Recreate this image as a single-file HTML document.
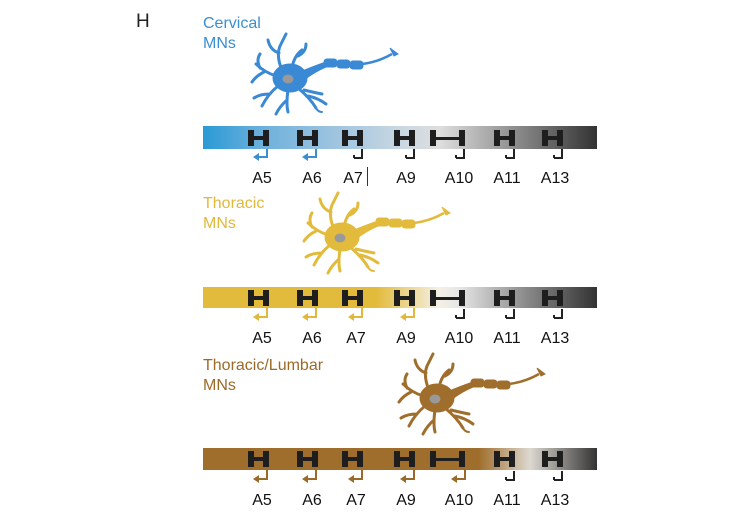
<!DOCTYPE html>
<html><head><meta charset="utf-8"><style>
html,body{margin:0;padding:0;background:#fff;width:750px;height:519px;overflow:hidden}
svg text{font-family:"Liberation Sans",Arial,sans-serif}
</style></head><body>
<svg width="750" height="519" viewBox="0 0 750 519" xmlns="http://www.w3.org/2000/svg">
<defs>
<linearGradient id="gb" x1="203" x2="597" gradientUnits="userSpaceOnUse">
<stop offset="0" stop-color="#2a9ad6"/><stop offset="0.15" stop-color="#6db0dc"/><stop offset="0.5" stop-color="#c9d7e2"/><stop offset="0.6" stop-color="#dedede"/><stop offset="0.8" stop-color="#8a8a8a"/><stop offset="1" stop-color="#333"/></linearGradient>
<linearGradient id="gy" x1="203" x2="597" gradientUnits="userSpaceOnUse">
<stop offset="0" stop-color="#e3bb3c"/><stop offset="0.44" stop-color="#e3bb3c"/><stop offset="0.6" stop-color="#f4f0e6"/><stop offset="0.65" stop-color="#e6e6e6"/><stop offset="0.82" stop-color="#8a8a8a"/><stop offset="1" stop-color="#333"/></linearGradient>
<linearGradient id="gr" x1="203" x2="597" gradientUnits="userSpaceOnUse">
<stop offset="0" stop-color="#a06e2c"/><stop offset="0.7" stop-color="#a06e2c"/><stop offset="0.83" stop-color="#ddd8d0"/><stop offset="1" stop-color="#333"/></linearGradient>
<g id="H"><rect x="0" y="0" width="6" height="16"/><rect x="15" y="0" width="6" height="16"/><rect x="0" y="6" width="21" height="4"/></g>
<g id="HW"><rect x="0" y="0" width="6" height="16"/><rect x="29" y="0" width="6" height="16"/><rect x="0" y="7" width="35" height="3"/></g>
<g id="hook" fill="none" stroke="#222" stroke-width="2"><path d="M0 0 V9 H-8"/><path d="M-8 6 V9"/></g>
<g id="neuron">
<g fill="none" stroke-linecap="round" stroke-width="3">
<path d="M-8 -8 Q-14 -22 -10 -32 M-11 -25 Q-20 -28 -22 -38 M-10 -32 Q-6 -40 -4 -44"/>
<path d="M2 -10 Q4 -22 12 -28 M8 -22 Q16 -26 16 -34"/>
<path d="M-14 -2 Q-26 -6 -34 -14 M-26 -6 Q-34 -2 -38 4 M-30 -10 Q-34 -18 -30 -24"/>
<path d="M-12 8 Q-22 16 -28 28 M-20 16 Q-30 16 -36 20"/>
<path d="M-2 12 Q-4 26 -2 34 M-3 22 Q-10 28 -14 36"/>
<path d="M8 10 Q20 20 26 30 M18 18 Q28 20 36 26 M14 12 Q22 14 32 16"/>
<path d="M26 30 Q28 34 32 34" stroke-width="2"/>
</g>
<ellipse cx="0" cy="0" rx="17" ry="14"/>
<path d="M10 -6 Q24 -12 36 -16 L36 -11 Q24 -6 14 2 Z"/>
<path d="M72 -14 Q88 -16 102 -24" fill="none" stroke-width="2.5"/>
<path d="M100 -30 L104 -22 L108 -24 Z"/>
<rect x="34" y="-19" width="13" height="8" rx="3" stroke-width="1"/>
<rect x="47" y="-18" width="13" height="8" rx="3" stroke-width="1"/>
<rect x="60" y="-17" width="13" height="8" rx="3" stroke-width="1"/>
<ellipse cx="-2" cy="1" rx="6" ry="5" fill="#999"/>
</g>
</defs>

<text x="136" y="27" font-size="19" fill="#222">H</text>

<!-- Row 1 -->
<text x="203" y="28" font-size="16" fill="#3a8fd0">Cervical</text>
<text x="203" y="48" font-size="16" fill="#3a8fd0">MNs</text>
<g transform="translate(290,78)" fill="#3a89d4" stroke="#3a89d4"><use href="#neuron"/></g>

<!-- Row 2 -->
<text x="203" y="208" font-size="16" fill="#e1b83a">Thoracic</text>
<text x="203" y="228" font-size="16" fill="#e1b83a">MNs</text>
<g transform="translate(342,237)" fill="#e3bb3c" stroke="#e3bb3c"><use href="#neuron"/></g>

<!-- Row 3 -->
<text x="203" y="370" font-size="16" fill="#9c6a28">Thoracic/Lumbar</text>
<text x="203" y="390" font-size="16" fill="#9c6a28">MNs</text>
<g transform="translate(437,398)" fill="#a06e2c" stroke="#a06e2c"><use href="#neuron"/></g>

<!-- bars -->
<g id="row1">
<rect x="203" y="126" width="394" height="23" fill="url(#gb)"/>
<g fill="#1e1e1e" transform="translate(0,130)">
<use href="#H" x="248"/><use href="#H" x="297"/><use href="#H" x="342"/><use href="#H" x="394"/><use href="#HW" x="430"/><use href="#H" x="494"/><use href="#H" x="542"/></g>
<g fill="none" stroke="#3a8fd0" stroke-width="2"><path d="M267 149 V157 H257"/><path d="M316 149 V157 H306"/></g>
<g fill="#3a8fd0"><path d="M253 157 L259 153 L259 161 Z"/><path d="M302 157 L308 153 L308 161 Z"/></g>
<g transform="translate(0,149)"><use href="#hook" x="362"/><use href="#hook" x="414"/><use href="#hook" x="464"/><use href="#hook" x="514"/><use href="#hook" x="562"/></g>
<g font-size="16" fill="#111" text-anchor="middle"><text x="262" y="183">A5</text><text x="312" y="183">A6</text><text x="353" y="183">A7</text><text x="406" y="183">A9</text><text x="459" y="183">A10</text><text x="507" y="183">A11</text><text x="555" y="183">A13</text></g>
<line x1="367.5" y1="167" x2="367.5" y2="186" stroke="#333" stroke-width="1"/>
</g>

<g transform="translate(0,161)">
<rect x="203" y="126" width="394" height="21" fill="url(#gy)"/>
<g fill="#1e1e1e" transform="translate(0,129)">
<use href="#H" x="248"/><use href="#H" x="297"/><use href="#H" x="342"/><use href="#H" x="394"/><use href="#HW" x="430"/><use href="#H" x="494"/><use href="#H" x="542"/></g>
<g fill="none" stroke="#e1b83a" stroke-width="2"><path d="M267 147 V156 H257"/><path d="M316 147 V156 H306"/><path d="M362 147 V156 H352"/><path d="M414 147 V156 H404"/></g>
<g fill="#e1b83a"><path d="M253 156 L259 152 L259 160 Z"/><path d="M302 156 L308 152 L308 160 Z"/><path d="M348 156 L354 152 L354 160 Z"/><path d="M400 156 L406 152 L406 160 Z"/></g>
<g transform="translate(0,148)"><use href="#hook" x="464"/><use href="#hook" x="514"/><use href="#hook" x="562"/></g>
<g font-size="16" fill="#111" text-anchor="middle"><text x="262" y="182">A5</text><text x="312" y="182">A6</text><text x="356" y="182">A7</text><text x="406" y="182">A9</text><text x="459" y="182">A10</text><text x="507" y="182">A11</text><text x="555" y="182">A13</text></g>
</g>

<g transform="translate(0,322)">
<rect x="203" y="126" width="394" height="22" fill="url(#gr)"/>
<g fill="#1e1e1e" transform="translate(0,129)">
<use href="#H" x="248"/><use href="#H" x="297"/><use href="#H" x="342"/><use href="#H" x="394"/><use href="#HW" x="430"/><use href="#H" x="494"/><use href="#H" x="542"/></g>
<g fill="none" stroke="#9c6a28" stroke-width="2"><path d="M267 148 V157 H257"/><path d="M316 148 V157 H306"/><path d="M362 148 V157 H352"/><path d="M414 148 V157 H404"/><path d="M465 148 V157 H455"/></g>
<g fill="#9c6a28"><path d="M253 157 L259 153 L259 161 Z"/><path d="M302 157 L308 153 L308 161 Z"/><path d="M348 157 L354 153 L354 161 Z"/><path d="M400 157 L406 153 L406 161 Z"/><path d="M451 157 L457 153 L457 161 Z"/></g>
<g transform="translate(0,149)"><use href="#hook" x="514"/><use href="#hook" x="562"/></g>
<g font-size="16" fill="#111" text-anchor="middle"><text x="262" y="183">A5</text><text x="312" y="183">A6</text><text x="356" y="183">A7</text><text x="406" y="183">A9</text><text x="459" y="183">A10</text><text x="507" y="183">A11</text><text x="555" y="183">A13</text></g>
</g>
</svg>
</body></html>
